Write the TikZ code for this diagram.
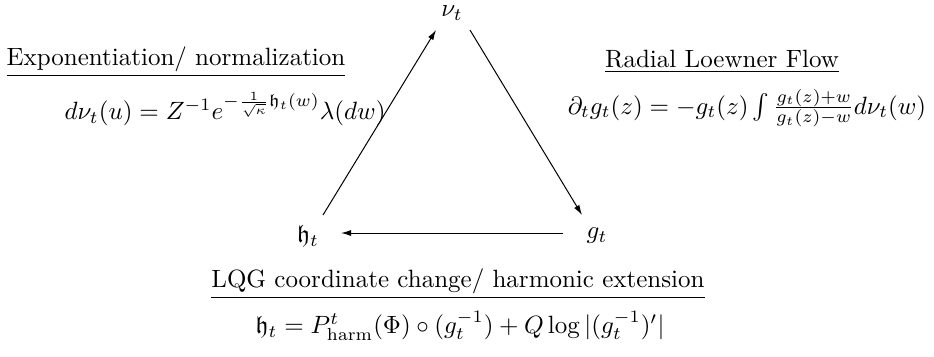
\documentclass[tikz,border=0pt]{standalone}
\usepackage{amsmath,amssymb}
\usetikzlibrary{arrows.meta}
\begin{document}
\begin{tikzpicture}[x=0.4pt,y=-0.4pt,
  vert/.style={inner sep=0pt},
  conn/.style={-{Latex[length=4pt,width=2.4pt]},line width=0.4pt},
  lbl/.style={inner sep=0pt}]
\useasboundingbox (0,0) rectangle (934,356);
\node[vert] (nu) at (452,13) {$\nu_t$};
\node[vert] (h) at (308,236) {$\mathfrak{h}_t$};
\node[vert] (g) at (597,236) {$g_t$};
\draw[conn] ([shift={(15,-21)}]h.center) -- ([shift={(-16,17)}]nu.center);
\draw[conn] ([shift={(18,17)}]nu.center) -- ([shift={(-15,-21)}]g.center);
\draw[conn] ([shift={(-34,-3)}]g.center) -- ([shift={(33,-3)}]h.center);
\node[lbl] (t1) at (176,62) {\underline{Exponentiation/ normalization}};
\node[lbl,anchor=east] (f1) at (386,109) {$d\nu_t(u) = Z^{-1} e^{-\frac{1}{\sqrt{\kappa}}\mathfrak{h}_t(w)}\lambda(dw)$};
\node[lbl] (t2) at (722,62) {\underline{Radial Loewner Flow}};
\node[lbl] (f2) at (747,108) {$\partial_t g_t(z) = -g_t(z)\int\frac{g_t(z)+w}{g_t(z)-w}d\nu_t(w)$};
\node[lbl] (t3) at (458,284) {\underline{LQG coordinate change/ harmonic extension}};
\node[lbl] (f3) at (460,326) {$\mathfrak{h}_t = P^t_{\mathrm{harm}}(\Phi)\circ(g_t^{-1}) + Q\log|(g_t^{-1})'|$};
\end{tikzpicture}
\end{document}
